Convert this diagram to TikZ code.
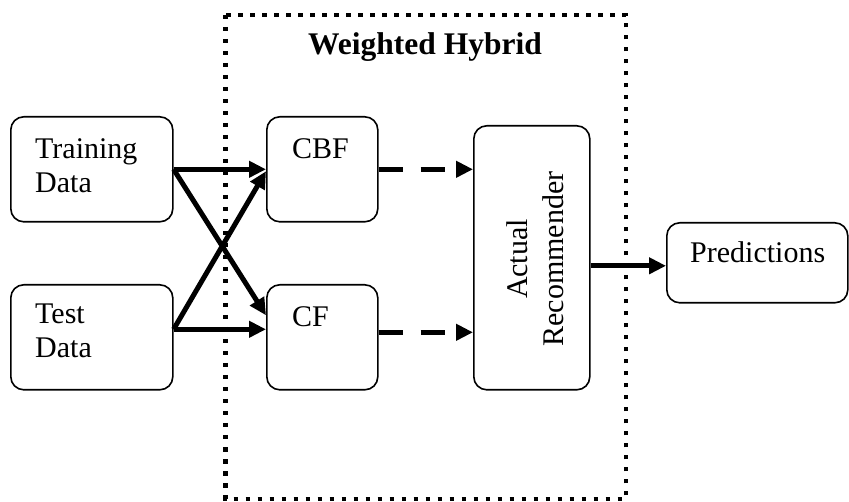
\documentclass[tikz,border=0pt]{standalone}
\usepackage{fontspec}
\setmainfont{Liberation Serif}
\usetikzlibrary{arrows.meta}
\begin{document}
\begin{tikzpicture}[x=1pt,y=-1pt,
  box/.style={draw, line width=1.6pt, rounded corners=13pt, inner sep=0pt, anchor=north west},
  lbl/.style={inner sep=0pt, anchor=base west, font=\fontsize{30}{34}\selectfont},
  flow/.style={line width=5pt, -{Triangle[length=17pt,width=16pt]}},
  weak/.style={flow, dash pattern=on 24pt off 18pt},
  frame/.style={line width=4.5pt, dash pattern=on 4.5pt off 7.5pt}]
\useasboundingbox (0,0) rectangle (849,502);

% dotted frame of the hybrid stage
\draw[frame] (225.5,15) rectangle (626,499);
\node[inner sep=0pt, anchor=base, font=\bfseries\fontsize{31.5}{36}\selectfont] (title) at (425,55) {Weighted Hybrid};

% boxes
\node[box, minimum width=162pt, minimum height=105pt] (train) at (10,116) {};
\node[box, minimum width=162pt, minimum height=105pt] (test) at (10,284) {};
\node[box, minimum width=111pt, minimum height=105pt] (cbf) at (266,116) {};
\node[box, minimum width=111pt, minimum height=105pt] (cf) at (266,284) {};
\node[box, minimum width=116pt, minimum height=264pt] (ar) at (473,125) {};
\node[box, minimum width=181pt, minimum height=80pt] (pred) at (666,222) {};

% labels
\node[lbl] (ltrain) at (35,159) {\begin{tabular}[t]{@{}l@{}}Training\\Data\end{tabular}};
\node[lbl] (ltest) at (35,324) {\begin{tabular}[t]{@{}l@{}}Test\\Data\end{tabular}};
\node[lbl] (lcbf) at (292,159) {CBF};
\node[lbl] (lcf) at (292,327) {CF};
\node[inner sep=0pt, rotate=90, align=center, font=\fontsize{30}{36}\selectfont] (lar) at (535,259) {Actual\\Recommender};
\node[lbl] (lpred) at (690,263) {Predictions};

% connectors
\coordinate (testout) at ([yshift=8pt]test.east);
\draw[flow] (train.east) -- (cbf.west);
\draw[flow] (train.east) -- ([yshift=22pt]cf.west);
\draw[flow] (testout) -- ([yshift=-2pt]cbf.west);
\draw[flow] (testout) -- (testout -| cf.west);
\draw[weak] (cbf.east) -- (cbf.east -| ar.west);
\draw[weak] ([yshift=5pt]cf.east) -- ([yshift=5pt]cf.east -| ar.west);
\draw[flow] ([yshift=-3pt]pred.west -| ar.east) -- ([yshift=-3pt]pred.west);
\end{tikzpicture}
\end{document}
